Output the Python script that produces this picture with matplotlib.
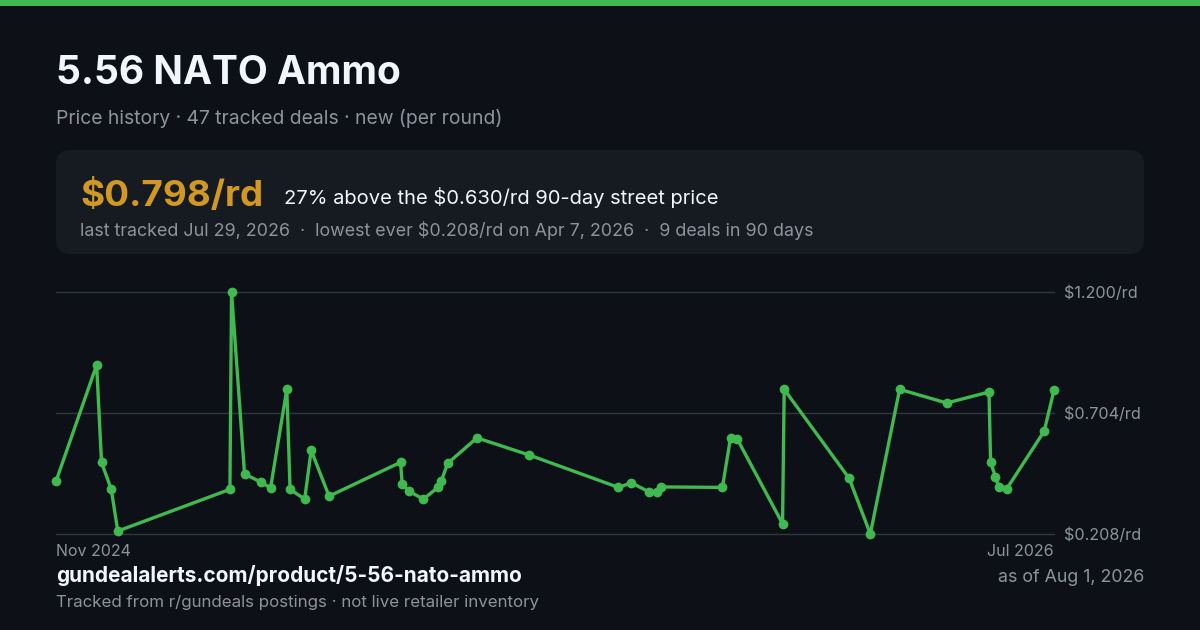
import matplotlib
matplotlib.use("Agg")
import matplotlib.pyplot as plt
from matplotlib.patches import FancyBboxPatch, Rectangle
import pandas as pd

# deal history (price per round)
deal_dates = [
    "2024-11-22", "2024-12-17", "2024-12-20", "2024-12-26", "2024-12-30",
    "2025-03-09", "2025-03-10", "2025-03-18", "2025-03-28", "2025-04-03",
    "2025-04-13", "2025-04-15", "2025-04-24", "2025-04-28", "2025-05-09",
    "2025-06-22", "2025-06-23", "2025-06-27", "2025-07-06", "2025-07-15",
    "2025-07-17", "2025-07-21", "2025-08-08", "2025-09-09", "2025-11-03",
    "2025-11-11", "2025-11-22", "2025-11-27", "2025-11-29", "2026-01-06",
    "2026-01-11", "2026-01-15", "2026-02-12", "2026-02-13", "2026-03-25",
    "2026-04-07", "2026-04-25", "2026-05-24", "2026-06-19", "2026-06-20",
    "2026-06-23", "2026-06-25", "2026-06-30", "2026-07-23", "2026-07-29",
]
deal_prices = [
    0.424, 0.901, 0.502, 0.391, 0.220,
    0.391, 1.200, 0.454, 0.421, 0.397,
    0.801, 0.391, 0.351, 0.551, 0.363,
    0.502, 0.412, 0.384, 0.351, 0.399,
    0.425, 0.498, 0.602, 0.532, 0.399,
    0.418, 0.380, 0.379, 0.401, 0.399,
    0.603, 0.599, 0.250, 0.801, 0.436,
    0.208, 0.801, 0.745, 0.790, 0.502,
    0.442, 0.402, 0.394, 0.630, 0.798,
]
y_ticks = [0.208, 0.704, 1.200]
y_tick_labels = ["$0.208/rd", "$0.704/rd", "$1.200/rd"]
x_labels = ["Nov 2024", "Jul 2026"]

BG = "#0d1117"
CARD = "#161b22"
GREEN = "#3fb950"
GOLD = "#d29922"
WHITE = "#f0f6fc"
MUTED = "#8b949e"
GRID = "#30363d"

plt.rcParams['font.family'] = ['Inter', 'DejaVu Sans']

W, H = 1200, 630
fig = plt.figure(figsize=(W / 100, H / 100), dpi=100, facecolor=BG)


def fx(px):
    return px / W


def fy(py):
    return 1 - py / H


# green strip on top
fig.patches.append(Rectangle((0, fy(6)), 1, 6 / H, transform=fig.transFigure,
                             facecolor=GREEN, edgecolor="none"))

# header
fig.text(fx(56), fy(73), "5.56 NATO Ammo", color=WHITE, fontsize=28,
         fontweight="bold", va="center", ha="left")
fig.text(fx(56), fy(118), "Price history · 47 tracked deals · new (per round)",
         color=MUTED, fontsize=13.9, va="center", ha="left")

# summary card
fig.patches.append(FancyBboxPatch((fx(56), fy(254)), fx(1144) - fx(56), (254 - 150) / H,
                                  boxstyle="round,pad=0,rounding_size=0.012",
                                  transform=fig.transFigure, facecolor=CARD,
                                  edgecolor="none", mutation_aspect=W / H))
fig.text(fx(80), fy(196), "$0.798/rd", color=GOLD, fontsize=26.5,
         fontweight="bold", va="center", ha="left")
fig.text(fx(284), fy(198), "27% above the $0.630/rd 90-day street price",
         color=WHITE, fontsize=14.5, va="center", ha="left")
fig.text(fx(80), fy(231),
         "last tracked Jul 29, 2026  ·  lowest ever $0.208/rd on Apr 7, 2026  ·  9 deals in 90 days",
         color=MUTED, fontsize=12.9, va="center", ha="left")

# chart
ax = fig.add_axes([fx(56), fy(534), (1054 - 56) / W, (534 - 292) / H])
ax.set_facecolor(BG)
dates = pd.to_datetime(deal_dates)
ax.plot(dates, deal_prices, color=GREEN, lw=2.4, marker="o", markersize=6,
        clip_on=False, zorder=3)
ax.set_ylim(y_ticks[0], y_ticks[-1])
ax.set_xlim(dates[0], dates[-1])
for t in y_ticks:
    ax.axhline(t, color=GRID, lw=1, zorder=1, clip_on=False)
for s in ax.spines.values():
    s.set_visible(False)
ax.set_xticks([])
ax.yaxis.tick_right()
ax.set_yticks(y_ticks)
ax.set_yticklabels(y_tick_labels, color=MUTED, fontsize=11.6)
ax.tick_params(axis="y", length=0, pad=7)

fig.text(fx(56), fy(552), x_labels[0], color=MUTED, fontsize=11.5, va="center", ha="left")
fig.text(fx(1054), fy(552), x_labels[1], color=MUTED, fontsize=11.5, va="center", ha="right")

# footer
fig.text(fx(56), fy(576), "gundealalerts.com/product/5-56-nato-ammo", color=WHITE,
         fontsize=15, fontweight="bold", va="center", ha="left")
fig.text(fx(1144), fy(578), "as of Aug 1, 2026", color=MUTED, fontsize=12.8,
         va="center", ha="right")
fig.text(fx(56), fy(602), "Tracked from r/gundeals postings · not live retailer inventory",
         color=MUTED, fontsize=12.2, va="center", ha="left")

fig.savefig("out.png", dpi=100, facecolor=BG)
